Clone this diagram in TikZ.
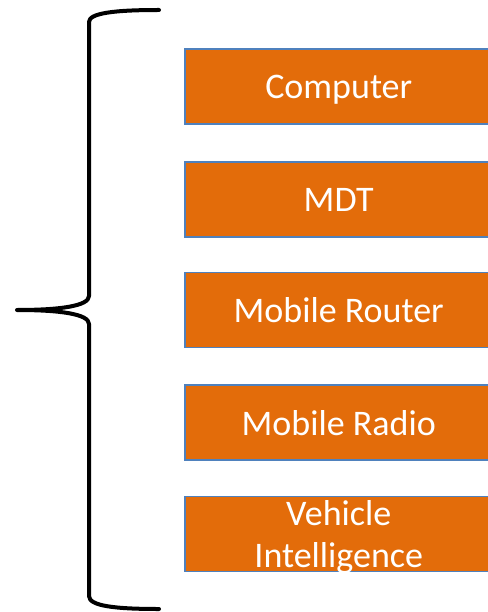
\documentclass[tikz,border=0pt]{standalone}
\usepackage{fontspec}
\setmainfont{Carlito}
\usepackage{xcolor}
\usetikzlibrary{positioning}
\definecolor{boxorange}{HTML}{E36C0A}
\definecolor{boxblue}{HTML}{4F81BD}
\tikzset{font={\fontsize{36pt}{42}\selectfont}}
\tikzset{item/.style={draw=boxblue,line width=1.5pt,fill=boxorange,text=white,minimum width=308pt,minimum height=75pt,align=center,inner sep=0pt,text depth=0pt}}

\begin{document}
\begin{tikzpicture}[x=1pt,y=-1pt]

\useasboundingbox (0,0) rectangle (487,612);

%boxes
\node[item,anchor=west] at (184, 86.5)   (comp) {Computer};
\node[item,anchor=west] at (184, 199.5)  (mdt) {MDT};
\node[item,anchor=west] at (184, 310)    (router) {Mobile Router};
\node[item,anchor=west] at (184, 422.5)  (radio) {Mobile Radio};
\node[item,anchor=west] at (184, 534)    (vi) {Vehicle\\Intelligence};

%brace
\draw[line width=4pt,line cap=round,line join=round] (159,10) .. controls (115,10) and (89,13) .. (89,22) -- (89,296)
  .. controls (89,306) and (60,310) .. (17,310)
  .. controls (60,310) and (89,314) .. (89,324) -- (89,596)
  .. controls (89,606) and (115,609) .. (159,609);

\end{tikzpicture}
\end{document}
